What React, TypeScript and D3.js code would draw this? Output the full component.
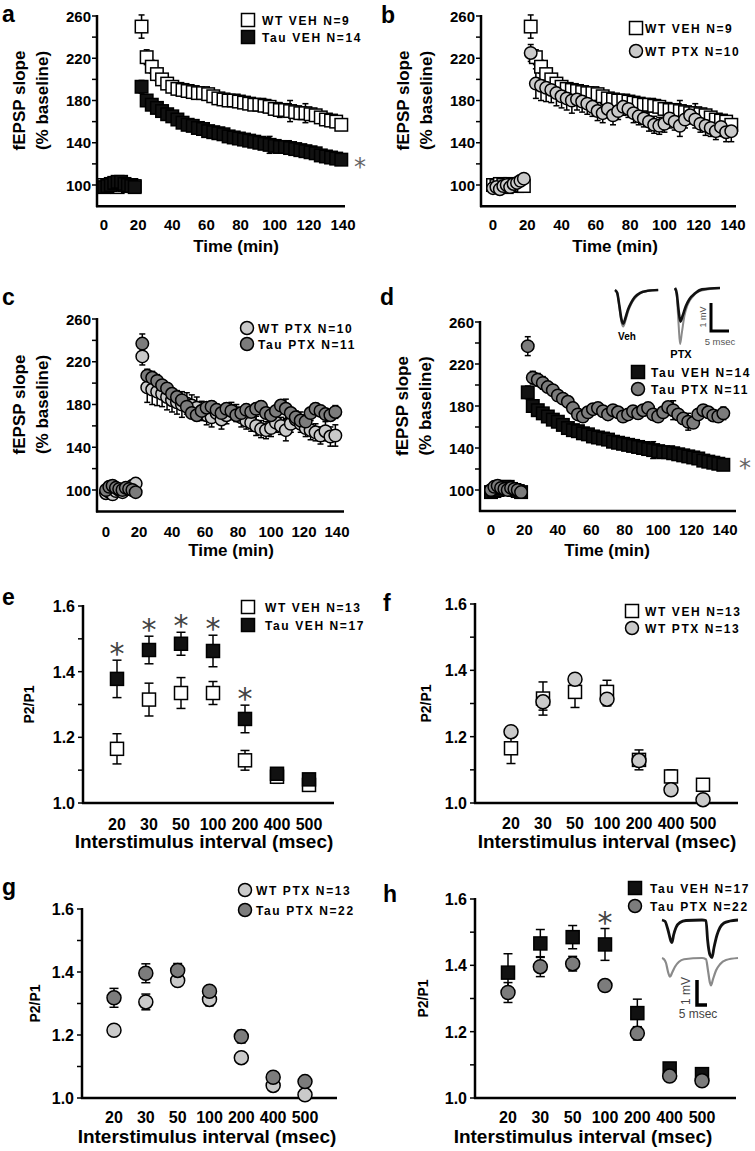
import * as d3 from 'd3';

const FONT = '"Liberation Sans", Arial, Helvetica, sans-serif';

// ---- LTP time course (fEPSP slope, % baseline) ----
const times = [0, 2, 4, 6, 8, 10, 12, 14, 16, 18,
  22, 25, 28, 31, 34, 37, 40, 43, 46, 49, 52, 55, 58, 61, 64, 67, 70, 73, 76, 79,
  82, 85, 88, 91, 94, 97, 100, 103, 106, 109, 112, 115, 118, 121, 124, 127, 130, 133, 136, 139];

const wtVeh = [100, 99, 101, 100, 98, 101, 100, 99, 100, 99,
  250, 221, 212, 205, 200, 196, 193, 191, 190, 189, 188, 187, 187, 186, 184, 182, 181, 180, 180, 179,
  178, 177, 176, 176, 175, 174, 172, 171, 171, 170, 169, 168, 168, 167, 166, 164, 162, 161, 160, 157];
const wtVehErr = [2, 2, 2, 2, 2, 2, 2, 2, 2, 2,
  11, 7, 6, 6, 5, 5, 5, 5, 5, 5, 5, 5, 5, 5, 5, 5, 5, 5, 5, 5,
  5, 5, 5, 5, 6, 6, 6, 7, 6, 10, 6, 6, 9, 5, 5, 5, 5, 5, 5, 5];

const tauVeh = [98, 99, 100, 102, 103, 103, 101, 100, 99, 98,
  193, 180, 176, 173, 170, 167, 165, 162, 159, 157, 156, 154, 153, 151, 150, 149, 148, 146, 145, 144,
  143, 142, 141, 140, 139, 138, 137, 136, 136, 135, 134, 133, 132, 131, 130, 128, 127, 126, 125, 124];
const tauVehErr = [3, 3, 3, 3, 3, 3, 3, 3, 3, 3,
  6, 5, 4, 4, 4, 4, 4, 4, 4, 4, 4, 4, 4, 4, 4, 4, 4, 4, 4, 4,
  4, 4, 4, 4, 4, 8, 4, 4, 4, 4, 4, 4, 4, 4, 4, 4, 4, 4, 4, 4];

const wtPtx = [97, 98, 96, 99, 100, 98, 101, 102, 104, 106,
  225, 196, 194, 192, 190, 187, 184, 182, 180, 181, 179, 177, 174, 170, 168, 172, 166, 170, 174, 172,
  168, 165, 163, 160, 157, 156, 158, 163, 160, 156, 162, 166, 162, 158, 156, 154, 151, 155, 150, 151];
const wtPtxErr = [3, 3, 3, 3, 3, 3, 3, 3, 3, 3,
  8, 14, 14, 13, 12, 12, 11, 11, 12, 10, 10, 10, 9, 9, 9, 8, 9, 8, 8, 8,
  9, 8, 8, 9, 8, 8, 8, 9, 8, 10, 8, 8, 8, 8, 9, 8, 8, 9, 9, 10];

const tauPtx = [100, 103, 104, 102, 101, 100, 102, 101, 100, 98,
  237, 207, 205, 202, 198, 195, 190, 187, 184, 178, 172, 170, 174, 177, 178, 175, 172, 176, 174, 170,
  172, 175, 173, 176, 178, 172, 170, 174, 179, 176, 172, 168, 165, 164, 172, 176, 174, 171, 170, 173];
const tauPtxErr = [3, 3, 3, 3, 3, 3, 3, 3, 3, 3,
  9, 6, 6, 6, 5, 5, 5, 5, 5, 5, 5, 5, 5, 5, 5, 5, 5, 5, 5, 5,
  5, 5, 5, 5, 5, 5, 5, 5, 5, 9, 5, 5, 8, 5, 5, 5, 5, 5, 5, 6];

// ---- paired-pulse ratio (P2/P1) ----
const intervals = ['20', '30', '50', '100', '200', '400', '500'];
const ppWtVeh = [1.165, 1.315, 1.335, 1.335, 1.13, 1.08, 1.055];
const ppWtVehErr = [0.046, 0.05, 0.047, 0.035, 0.03, 0.02, 0.012];
const ppTauVeh = [1.378, 1.466, 1.485, 1.463, 1.256, 1.089, 1.072];
const ppTauVehErr = [0.057, 0.042, 0.035, 0.048, 0.042, 0.012, 0.01];
const ppWtPtx = [1.215, 1.305, 1.373, 1.313, 1.128, 1.04, 1.01];
const ppWtPtxErr = [0.015, 0.025, 0.015, 0.02, 0.015, 0.01, 0.01];
const ppTauPtx = [1.318, 1.396, 1.405, 1.339, 1.195, 1.066, 1.052];
const ppTauPtxErr = [0.03, 0.03, 0.022, 0.015, 0.02, 0.01, 0.01];

// ---- example traces [ms, mV] ----
const vehBlack = [[0, 0], [0.6, -0.1], [1.2, -0.55], [1.8, -1.05], [2.3, -1.2], [2.9, -1.0], [3.6, -0.7], [4.5, -0.45], [5.5, -0.25], [7, -0.1], [9, -0.03], [12, 0]];
const vehGray = [[0, 0], [0.6, -0.1], [1.2, -0.6], [1.8, -1.15], [2.3, -1.3], [2.9, -1.1], [3.6, -0.78], [4.5, -0.5], [5.5, -0.3], [7, -0.12], [9, -0.04], [12, 0]];
const ptxBlack = [[0, 0], [0.5, -0.2], [1.0, -0.8], [1.5, -1.2], [2.1, -1.0], [3, -0.65], [4, -0.4], [5.5, -0.2], [7.5, -0.05], [12.5, 0]];
const ptxGray = [[0, 0], [0.5, -0.3], [1.0, -1.3], [1.4, -2.0], [1.9, -1.6], [2.6, -1.0], [3.5, -0.6], [5, -0.3], [7, -0.1], [12.5, 0]];
const ppBlack = [[0, 0], [1.5, -0.05], [3, -0.4], [4.5, -0.85], [5, -0.9], [5.8, -0.6], [7, -0.3], [9, -0.1], [12, -0.02], [20, 0], [22, -0.02], [22.8, -0.8], [24, -1.4], [25, -1.5], [26, -1.1], [27.5, -0.6], [29, -0.3], [31, -0.12], [34, -0.04], [38, 0]];
const ppGray = [[0, 0], [1, -0.05], [2, -0.2], [3, -0.55], [4, -0.75], [5, -0.6], [6.5, -0.35], [8.5, -0.15], [11, -0.05], [20, 0], [22, -0.05], [23, -0.5], [24, -1.0], [24.5, -1.1], [25.5, -0.85], [27, -0.5], [29, -0.25], [32, -0.08], [38, 0]];

type Kind = 'wtVeh' | 'tauVeh' | 'wtPtx' | 'tauPtx';
const STYLES: Record<Kind, { shape: 'square' | 'circle'; fill: string }> = {
  wtVeh: { shape: 'square', fill: '#ffffff' },
  tauVeh: { shape: 'square', fill: '#111111' },
  wtPtx: { shape: 'circle', fill: '#cacaca' },
  tauPtx: { shape: 'circle', fill: '#7c7c7c' },
};

function Marker({ kind, x, y, size }: { kind: Kind; x: number; y: number; size: number }) {
  const s = STYLES[kind];
  if (s.shape === 'square') {
    return <rect x={x - size / 2} y={y - size / 2} width={size} height={size} fill={s.fill} stroke="#000" strokeWidth={1.5} />;
  }
  return <circle cx={x} cy={y} r={size / 2} fill={s.fill} stroke="#000" strokeWidth={1.5} />;
}

function ErrBar({ x, y0, y1, cap }: { x: number; y0: number; y1: number; cap: number }) {
  return (
    <g stroke="#000" strokeWidth={1.5}>
      <line x1={x} x2={x} y1={y0} y2={y1} />
      <line x1={x - cap} x2={x + cap} y1={y0} y2={y0} />
      <line x1={x - cap} x2={x + cap} y1={y1} y2={y1} />
    </g>
  );
}

interface LegendProps { mx: number; tx: number; rows: number[]; items: { kind: Kind; text: string }[] }
function Legend({ mx, tx, rows, items }: LegendProps) {
  return (
    <g>
      {items.map((it, i) => (
        <g key={i}>
          <Marker kind={it.kind} x={mx} y={rows[i]} size={13} />
          <text x={tx} y={rows[i] + 5} fontSize={12} fontWeight="bold" letterSpacing={1.6}>{it.text}</text>
        </g>
      ))}
    </g>
  );
}

interface Series { kind: Kind; values: number[]; errs: number[] }

interface TCLayout {
  label: string; lx: number; ly: number;
  x0: number; x140: number; axisL: number; axisR: number;
  y100: number; y260: number; tickY: number; titleX: number; titleY: number;
}

function TimePanel({ L, series, legend, star }: { L: TCLayout; series: Series[]; legend: LegendProps; star: [number, number] | null }) {
  const x = d3.scaleLinear().domain([0, 140]).range([L.x0, L.x140]);
  const y = d3.scaleLinear().domain([100, 260]).range([L.y100, L.y260]);
  const yb = y(80);
  const midY = (y(100) + y(260)) / 2;
  return (
    <g>
      <text x={L.lx} y={L.ly} fontSize={23} fontWeight="bold">{L.label}</text>
      <line x1={L.axisL} x2={L.axisL} y1={yb + 1} y2={y(260) - 1} stroke="#000" strokeWidth={2.5} />
      <line x1={L.axisL - 1} x2={L.axisR} y1={yb} y2={yb} stroke="#000" strokeWidth={2.5} />
      {d3.range(100, 261, 20).map(t => (
        <line key={t} x1={L.axisL - 5} x2={L.axisL} y1={y(t)} y2={y(t)} stroke="#000" strokeWidth={1.5} />
      ))}
      {[100, 140, 180, 220, 260].map(t => (
        <text key={t} x={L.axisL - 6} y={y(t) + 5.5} textAnchor="end" fontSize={15} fontWeight="bold">{t}</text>
      ))}
      {d3.range(0, 141, 20).map(t => (
        <text key={t} x={x(t)} y={L.tickY} textAnchor="middle" fontSize={15} fontWeight="bold">{t}</text>
      ))}
      <text x={L.titleX} y={L.titleY} textAnchor="middle" fontSize={17} fontWeight="bold">Time (min)</text>
      <text transform={`translate(${L.axisL - 72},${midY}) rotate(-90)`} textAnchor="middle" fontSize={17} fontWeight="bold">fEPSP slope</text>
      <text transform={`translate(${L.axisL - 49},${midY}) rotate(-90)`} textAnchor="middle" fontSize={17} fontWeight="bold">(% baseline)</text>
      {series.map((s, si) => (
        <g key={'e' + si}>
          {s.values.map((v, i) => (
            <ErrBar key={i} x={x(times[i])} y0={y(v - s.errs[i])} y1={y(v + s.errs[i])} cap={3} />
          ))}
        </g>
      ))}
      {series.map((s, si) => (
        <g key={'m' + si}>
          {s.values.map((v, i) => (
            <Marker key={i} kind={s.kind} x={x(times[i])} y={y(v)} size={12.5} />
          ))}
        </g>
      ))}
      <Legend {...legend} />
      {star && (
        <text x={star[0]} y={star[1] + 12} textAnchor="middle" fontSize={24} fill="#666" fontFamily="DejaVu Sans">*</text>
      )}
    </g>
  );
}

interface PPLayout {
  label: string; lx: number; ly: number;
  first: number; last: number; axisL: number; axisR: number;
  y1: number; y16: number; tickY: number; titleX: number; titleY: number; ytX: number;
}

function PPPanel({ L, series, legend, stars }: { L: PPLayout; series: Series[]; legend: LegendProps; stars: number[] }) {
  const x = d3.scaleLinear().domain([0, intervals.length - 1]).range([L.first, L.last]);
  const y = d3.scaleLinear().domain([1.0, 1.6]).range([L.y1, L.y16]);
  const midY = (y(1.0) + y(1.6)) / 2;
  const starSeries = series.find(s => s.kind === 'tauVeh') || series[0];
  return (
    <g>
      <text x={L.lx} y={L.ly} fontSize={23} fontWeight="bold">{L.label}</text>
      <line x1={L.axisL} x2={L.axisL} y1={L.y1 + 1} y2={y(1.6) - 1} stroke="#000" strokeWidth={2.5} />
      <line x1={L.axisL - 1} x2={L.axisR} y1={L.y1} y2={L.y1} stroke="#000" strokeWidth={2.5} />
      {d3.range(0, 7).map(k => (
        <line key={k} x1={L.axisL - 5} x2={L.axisL} y1={y(1 + k / 10)} y2={y(1 + k / 10)} stroke="#000" strokeWidth={1.5} />
      ))}
      {['1.0', '1.2', '1.4', '1.6'].map(t => (
        <text key={t} x={L.axisL - 8} y={y(+t) + 6} textAnchor="end" fontSize={16} fontWeight="bold">{t}</text>
      ))}
      {intervals.map((t, i) => (
        <text key={t} x={x(i)} y={L.tickY} textAnchor="middle" fontSize={16} fontWeight="bold">{t}</text>
      ))}
      <text x={L.titleX} y={L.titleY} textAnchor="middle" fontSize={19} fontWeight="bold">Interstimulus interval (msec)</text>
      <text transform={`translate(${L.ytX},${midY}) rotate(-90)`} textAnchor="middle" fontSize={14} fontWeight="bold">P2/P1</text>
      {series.map((s, si) => (
        <g key={'e' + si}>
          {s.values.map((v, i) => (
            <ErrBar key={i} x={x(i)} y0={y(v - s.errs[i])} y1={y(v + s.errs[i])} cap={4.5} />
          ))}
        </g>
      ))}
      {series.map((s, si) => (
        <g key={'m' + si}>
          {s.values.map((v, i) => (
            <Marker key={i} kind={s.kind} x={x(i)} y={y(v)} size={s.kind === 'tauVeh' || s.kind === 'wtVeh' ? 13 : 14} />
          ))}
        </g>
      ))}
      {stars.map(i => (
        <text key={i} x={x(i)} y={y(starSeries.values[i] + starSeries.errs[i]) + 4} textAnchor="middle" fontSize={30} fill="#444" fontFamily="DejaVu Sans">*</text>
      ))}
      <Legend {...legend} />
    </g>
  );
}

function Trace({ pts, ox, oy, msPx, mvPx, color, width }: { pts: number[][]; ox: number; oy: number; msPx: number; mvPx: number; color: string; width: number }) {
  const x = d3.scaleLinear().domain([0, 1]).range([ox, ox + msPx]);
  const y = d3.scaleLinear().domain([0, 1]).range([oy, oy - mvPx]);
  const line = d3.line<number[]>().x(d => x(d[0])).y(d => y(d[1])).curve(d3.curveMonotoneX);
  return <path d={line(pts) || ''} fill="none" stroke={color} strokeWidth={width} strokeLinejoin="round" />;
}

function ScaleBar({ ox, oy, msPx, mvPx, ms, mv, w }: { ox: number; oy: number; msPx: number; mvPx: number; ms: number; mv: number; w: number }) {
  const x = d3.scaleLinear().domain([0, 1]).range([ox, ox + msPx]);
  const y = d3.scaleLinear().domain([0, 1]).range([oy, oy - mvPx]);
  return <path d={`M${x(0)},${y(mv)}L${x(0)},${y(0)}L${x(ms)},${y(0)}`} fill="none" stroke="#000" strokeWidth={w} />;
}

const L_A: TCLayout = { label: 'a', lx: 2, ly: 22, x0: 104, x140: 343, axisL: 97, axisR: 345, y100: 185, y260: 16, tickY: 230, titleX: 236, titleY: 252 };
const L_B: TCLayout = { label: 'b', lx: 381, ly: 23, x0: 493, x140: 733, axisL: 481, axisR: 736, y100: 185, y260: 16, tickY: 230, titleX: 615, titleY: 252 };
const L_C: TCLayout = { label: 'c', lx: 2, ly: 305, x0: 106, x140: 337, axisL: 97, axisR: 344, y100: 490, y260: 319, tickY: 537, titleX: 231, titleY: 556 };
const L_D: TCLayout = { label: 'd', lx: 380, ly: 305, x0: 491, x140: 725, axisL: 480, axisR: 736, y100: 490, y260: 322, tickY: 535, titleX: 607, titleY: 556 };

const L_E: PPLayout = { label: 'e', lx: 2, ly: 605, first: 117, last: 309, axisL: 83, axisR: 334, y1: 803, y16: 606, tickY: 830, titleX: 204, titleY: 848, ytX: 34 };
const L_F: PPLayout = { label: 'f', lx: 383, ly: 611, first: 511, last: 703, axisL: 475, axisR: 738, y1: 803, y16: 604, tickY: 829, titleX: 607, titleY: 848, ytX: 431 };
const L_G: PPLayout = { label: 'g', lx: 2, ly: 895, first: 114, last: 305, axisL: 82, axisR: 337, y1: 1098, y16: 909, tickY: 1123, titleX: 207, titleY: 1143, ytX: 40 };
const L_H: PPLayout = { label: 'h', lx: 383, ly: 902, first: 508, last: 702, axisL: 475, axisR: 736, y1: 1098, y16: 899, tickY: 1123, titleX: 583, titleY: 1143, ytX: 428 };

export default function App() {
  const S = {
    wtVeh: { kind: 'wtVeh' as Kind, values: wtVeh, errs: wtVehErr },
    tauVeh: { kind: 'tauVeh' as Kind, values: tauVeh, errs: tauVehErr },
    wtPtx: { kind: 'wtPtx' as Kind, values: wtPtx, errs: wtPtxErr },
    tauPtx: { kind: 'tauPtx' as Kind, values: tauPtx, errs: tauPtxErr },
  };
  const P = {
    wtVeh: { kind: 'wtVeh' as Kind, values: ppWtVeh, errs: ppWtVehErr },
    tauVeh: { kind: 'tauVeh' as Kind, values: ppTauVeh, errs: ppTauVehErr },
    wtPtx: { kind: 'wtPtx' as Kind, values: ppWtPtx, errs: ppWtPtxErr },
    tauPtx: { kind: 'tauPtx' as Kind, values: ppTauPtx, errs: ppTauPtxErr },
  };
  return (
    <svg width={755} height={1151} style={{ position: 'absolute', left: 0, top: 0, background: '#fff' }} fontFamily={FONT}>
      <TimePanel L={L_A} series={[S.wtVeh, S.tauVeh]} star={[360, 163]}
        legend={{ mx: 248, tx: 262, rows: [20, 37], items: [{ kind: 'wtVeh', text: 'WT VEH N=9' }, { kind: 'tauVeh', text: 'Tau VEH N=14' }] }} />
      <TimePanel L={L_B} series={[S.wtVeh, S.wtPtx]} star={null}
        legend={{ mx: 636, tx: 645, rows: [28, 51], items: [{ kind: 'wtVeh', text: 'WT VEH N=9' }, { kind: 'wtPtx', text: 'WT PTX N=10' }] }} />
      <TimePanel L={L_C} series={[S.wtPtx, S.tauPtx]} star={null}
        legend={{ mx: 247, tx: 258, rows: [328, 344], items: [{ kind: 'wtPtx', text: 'WT PTX N=10' }, { kind: 'tauPtx', text: 'Tau PTX N=11' }] }} />
      <TimePanel L={L_D} series={[S.tauVeh, S.tauPtx]} star={[745, 464]}
        legend={{ mx: 638, tx: 651, rows: [372, 389], items: [{ kind: 'tauVeh', text: 'Tau VEH N=14' }, { kind: 'tauPtx', text: 'Tau PTX N=11' }] }} />

      {/* panel d inset: example fEPSPs */}
      <Trace pts={vehGray} ox={615} oy={290} msPx={3.6} mvPx={28} color="#8a8a8a" width={2} />
      <Trace pts={vehBlack} ox={615} oy={290} msPx={3.6} mvPx={28} color="#111" width={2.6} />
      <Trace pts={ptxGray} ox={675} oy={288} msPx={3.6} mvPx={28} color="#8a8a8a" width={2} />
      <Trace pts={ptxBlack} ox={675} oy={288} msPx={3.6} mvPx={28} color="#111" width={2.6} />
      <ScaleBar ox={711} oy={331} msPx={3.6} mvPx={28} ms={5} mv={1} w={3} />
      <text x={627} y={340} textAnchor="middle" fontSize={10} fontWeight="bold">Veh</text>
      <text x={681} y={358} textAnchor="middle" fontSize={11} fontWeight="bold">PTX</text>
      <text transform="translate(706,317) rotate(-90)" textAnchor="middle" fontSize={9} fill="#555">1 mV</text>
      <text x={720} y={345} textAnchor="middle" fontSize={9.5} fill="#555">5 msec</text>

      <PPPanel L={L_E} series={[P.wtVeh, P.tauVeh]} stars={[0, 1, 2, 3, 4]}
        legend={{ mx: 248, tx: 265, rows: [607, 625], items: [{ kind: 'wtVeh', text: 'WT VEH N=13' }, { kind: 'tauVeh', text: 'Tau VEH N=17' }] }} />
      <PPPanel L={L_F} series={[P.wtVeh, P.wtPtx]} stars={[]}
        legend={{ mx: 632, tx: 645, rows: [611, 628], items: [{ kind: 'wtVeh', text: 'WT VEH N=13' }, { kind: 'wtPtx', text: 'WT PTX N=13' }] }} />
      <PPPanel L={L_G} series={[P.wtPtx, P.tauPtx]} stars={[]}
        legend={{ mx: 245, tx: 256, rows: [890, 910], items: [{ kind: 'wtPtx', text: 'WT PTX N=13' }, { kind: 'tauPtx', text: 'Tau PTX N=22' }] }} />
      <PPPanel L={L_H} series={[P.tauVeh, P.tauPtx]} stars={[3]}
        legend={{ mx: 635, tx: 650, rows: [888, 906], items: [{ kind: 'tauVeh', text: 'Tau VEH N=17' }, { kind: 'tauPtx', text: 'Tau PTX N=22' }] }} />

      {/* panel h inset: paired-pulse traces */}
      <Trace pts={ppBlack} ox={662} oy={920} msPx={2} mvPx={25} color="#111" width={2.8} />
      <Trace pts={ppGray} ox={662} oy={958} msPx={2} mvPx={25} color="#8a8a8a" width={2.2} />
      <ScaleBar ox={697} oy={1005} msPx={2} mvPx={25} ms={5} mv={1} w={3.5} />
      <text transform="translate(690,991) rotate(-90)" textAnchor="middle" fontSize={12} fill="#444">1 mV</text>
      <text x={698} y={1018} textAnchor="middle" fontSize={12} fill="#444">5 msec</text>
    </svg>
  );
}
